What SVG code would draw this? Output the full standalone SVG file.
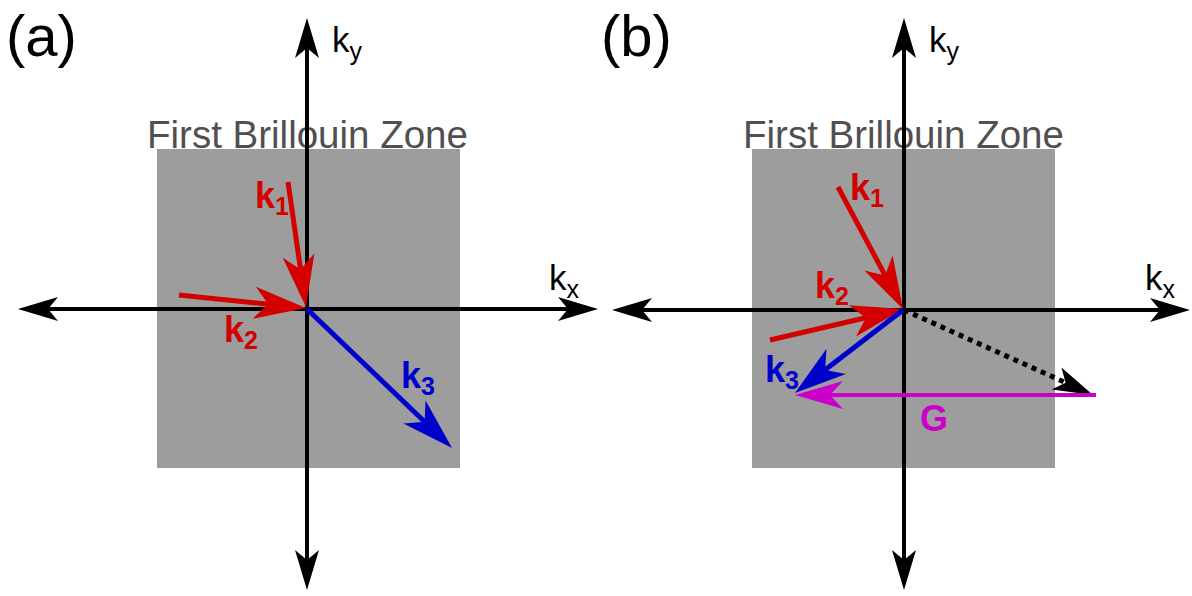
<svg xmlns="http://www.w3.org/2000/svg" width="1192" height="596" viewBox="0 0 1192 596">
<style>
.zone{fill:#9d9d9d}
.zt{font-family:"Liberation Sans",Arial,sans-serif;font-size:38.5px;fill:#505050}
.pl{font-family:"Liberation Sans",Arial,sans-serif;font-size:58px;fill:#000}
.al{font-family:"Liberation Sans",Arial,sans-serif;font-size:35px;fill:#000}
.sub{font-size:25px}
.kl{font-family:"Liberation Sans",Arial,sans-serif;font-size:36px;font-weight:bold}
.ksub{font-size:25px}
.axis{stroke:#000;stroke-width:4;fill:none;marker-start:url(#ax);marker-end:url(#ax)}
.kr{stroke:#d40000;stroke-width:5;fill:none;marker-end:url(#hr)}
.kb{stroke:#0000cc;stroke-width:5;fill:none;marker-end:url(#hb)}
.km{stroke:#cc00cc;stroke-width:4;fill:none;marker-end:url(#hm)}
.dot{stroke:#000;stroke-width:5;stroke-dasharray:5 5;fill:none;marker-end:url(#ax)}
</style>
<defs>
<marker id="ax" markerUnits="userSpaceOnUse" orient="auto-start-reverse" refX="0" refY="0" markerWidth="10" markerHeight="10" overflow="visible"><path d="M25,0 L-15,-12 L-5,0 L-15,12 Z" fill="#000"/></marker>
<marker id="hr" markerUnits="userSpaceOnUse" orient="auto" refX="0" refY="0" markerWidth="10" markerHeight="10" overflow="visible"><path d="M25,0 L-27,-16 L-13,0 L-27,16 Z" fill="#d40000"/></marker>
<marker id="hb" markerUnits="userSpaceOnUse" orient="auto" refX="0" refY="0" markerWidth="10" markerHeight="10" overflow="visible"><path d="M25,0 L-27,-16 L-13,0 L-27,16 Z" fill="#0000cc"/></marker>
<marker id="hm" markerUnits="userSpaceOnUse" orient="auto" refX="0" refY="0" markerWidth="10" markerHeight="10" overflow="visible"><path d="M25,0 L-23,-14 L-10,0 L-23,14 Z" fill="#cc00cc"/></marker>
</defs>
<rect width="1192" height="596" fill="#fff"/>

<g id="panel-a">
  <rect id="zone-a" class="zone" x="157" y="149" width="303" height="319"/>
  <text class="zt" x="147" y="148">First Brillouin Zone</text>
  <text class="pl" x="6" y="56">(a)</text>
</g>
<g id="panel-b">
  <rect id="zone-b" class="zone" x="752" y="149" width="303" height="319"/>
  <text class="zt" x="743" y="148">First Brillouin Zone</text>
  <text class="pl" x="601" y="56">(b)</text>
</g>

<g id="connectors">
  <path id="a-ky" class="axis" d="M307,565 L307,43"/>
  <path id="a-kx" class="axis" d="M43,309 L573,309"/>
  <path id="a-k1" class="kr" d="M288,182 L302.4,282.3"/>
  <path id="a-k2" class="kr" d="M179,295 L281.1,305.5"/>
  <path id="a-k3" class="kb" d="M307,309 L434,430.7"/>

  <path id="b-ky" class="axis" d="M904,565 L904,43"/>
  <path id="b-kx" class="axis" d="M637,310 L1165,310"/>
  <path id="b-dot" class="dot" d="M904,310 L1070.2,384.7"/>
  <path id="b-G" class="km" d="M1096,395 L820,395"/>
  <path id="b-k1" class="kr" d="M838,187 L891.2,286.9"/>
  <path id="b-k2" class="kr" d="M770,340 L878.7,314.7"/>
  <path id="b-k3" class="kb" d="M903,310 L814.8,377.8"/>
</g>

<g id="labels-a">
  <text class="al" x="332" y="52">k<tspan class="sub" dy="8">y</tspan></text>
  <text class="al" x="549" y="290">k<tspan class="sub" dy="8">x</tspan></text>
  <text class="kl" x="255" y="208" fill="#d40000">k<tspan class="ksub" dy="7">1</tspan></text>
  <text class="kl" x="224" y="342" fill="#d40000">k<tspan class="ksub" dy="7">2</tspan></text>
  <text class="kl" x="401" y="388" fill="#0000cc">k<tspan class="ksub" dy="7">3</tspan></text>
</g>
<g id="labels-b">
  <text class="al" x="929" y="52">k<tspan class="sub" dy="8">y</tspan></text>
  <text class="al" x="1145" y="290">k<tspan class="sub" dy="8">x</tspan></text>
  <text class="kl" x="850" y="200" fill="#d40000">k<tspan class="ksub" dy="7">1</tspan></text>
  <text class="kl" x="815" y="298" fill="#d40000">k<tspan class="ksub" dy="7">2</tspan></text>
  <text class="kl" x="765" y="382" fill="#0000cc">k<tspan class="ksub" dy="7">3</tspan></text>
  <text class="kl" x="920" y="431" fill="#cc00cc" font-size="32">G</text>
</g>
</svg>
